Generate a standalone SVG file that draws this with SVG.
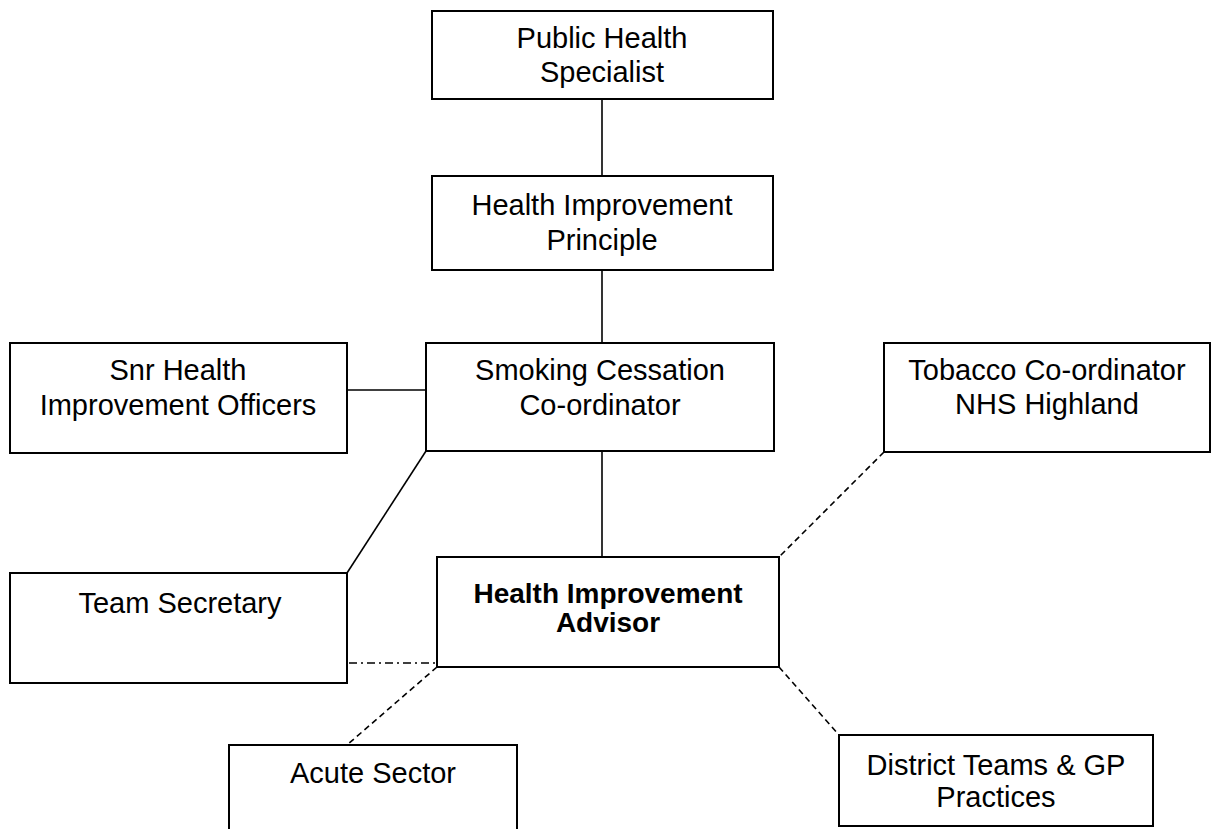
<svg xmlns="http://www.w3.org/2000/svg" width="1220" height="829" viewBox="0 0 1220 829">
<style>
.box{fill:#fff;stroke:#000;stroke-width:2}
.t{font-family:"Liberation Sans",Arial,sans-serif;font-size:29px;fill:#000;text-anchor:middle}
.b{font-weight:bold;font-size:28px}
.c{stroke:#000;stroke-width:1.6;fill:none}
.d{stroke-dasharray:6 4}
.dd{stroke-dasharray:8 4 2 4}
</style>
<rect width="1220" height="829" fill="#fff"/>
<g id="connectors">
<line class="c" x1="602" y1="99" x2="602" y2="176"/>
<line class="c" x1="602" y1="270" x2="602" y2="343"/>
<line class="c" x1="347" y1="390" x2="426" y2="390"/>
<line class="c" x1="602" y1="451" x2="602" y2="557"/>
<line class="c" x1="426" y1="451" x2="347" y2="573"/>
<line class="c d" x1="884" y1="452" x2="779" y2="557"/>
<line class="c dd" x1="349" y1="663" x2="436" y2="663"/>
<line class="c d" x1="437" y1="667" x2="347" y2="745"/>
<line class="c d" x1="779" y1="667" x2="839" y2="735"/>
</g>
<g id="public-health-specialist">
<rect class="box" x="432" y="11" width="341" height="88"/>
<text class="t" x="602" y="48">Public Health</text>
<text class="t" x="602" y="82">Specialist</text>
</g>
<g id="health-improvement-principle">
<rect class="box" x="432" y="176" width="341" height="94"/>
<text class="t" x="602" y="215">Health Improvement</text>
<text class="t" x="602" y="250">Principle</text>
</g>
<g id="smoking-cessation-coordinator">
<rect class="box" x="426" y="343" width="348" height="108"/>
<text class="t" x="600" y="380">Smoking Cessation</text>
<text class="t" x="600" y="415">Co-ordinator</text>
</g>
<g id="snr-health-improvement-officers">
<rect class="box" x="10" y="343" width="337" height="110"/>
<text class="t" x="178" y="380">Snr Health</text>
<text class="t" x="178" y="415">Improvement Officers</text>
</g>
<g id="tobacco-coordinator">
<rect class="box" x="884" y="343" width="326" height="109"/>
<text class="t" x="1047" y="380">Tobacco Co-ordinator</text>
<text class="t" x="1047" y="414">NHS Highland</text>
</g>
<g id="team-secretary">
<rect class="box" x="10" y="573" width="337" height="110"/>
<text class="t" x="180" y="613">Team Secretary</text>
</g>
<g id="health-improvement-advisor">
<rect class="box" x="437" y="557" width="342" height="110"/>
<text class="t b" x="608" y="603">Health Improvement</text>
<text class="t b" x="608" y="632">Advisor</text>
</g>
<g id="acute-sector">
<rect class="box" x="229" y="745" width="288" height="120"/>
<text class="t" x="373" y="783">Acute Sector</text>
</g>
<g id="district-teams">
<rect class="box" x="839" y="735" width="314" height="91"/>
<text class="t" x="996" y="775">District Teams &amp; GP</text>
<text class="t" x="996" y="807">Practices</text>
</g>
</svg>
